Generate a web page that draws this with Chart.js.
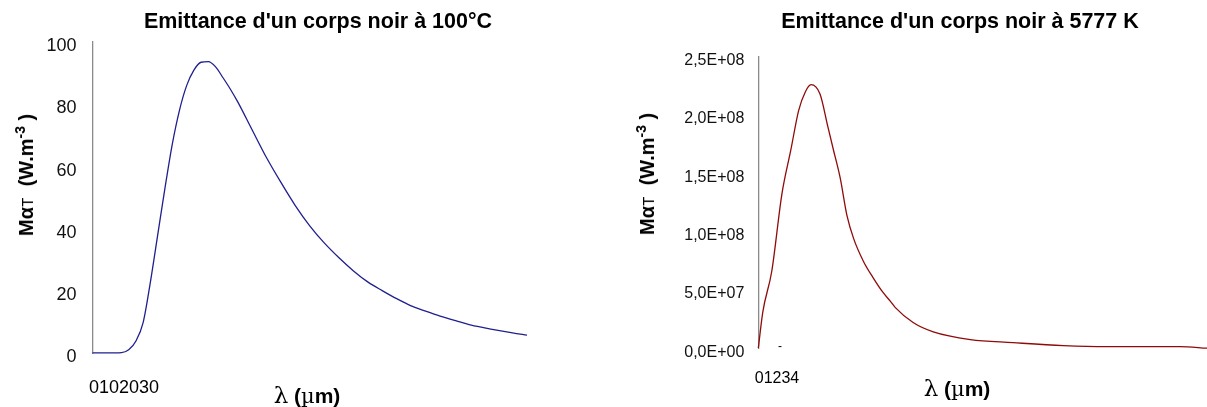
<!DOCTYPE html>
<html>
<head>
<meta charset="utf-8">
<script src="https://cdn.jsdelivr.net/npm/chart.js@4.4.1/dist/chart.umd.min.js"></script>
<style>
  html, body { margin: 0; padding: 0; background: #fff; }
  #wrap { position: relative; width: 1207px; height: 407px; overflow: hidden; font-family: "Liberation Sans", Arial, sans-serif; color: #000; }
  canvas { position: absolute; top: 0; }
  .txt { position: absolute; white-space: nowrap; line-height: 1; }
  .title { font-weight: bold; font-size: 21.5px; transform: translate(-50%, -50%); }
  .ytitle { font-weight: bold; font-size: 20px; transform: translate(-50%, -50%) rotate(-90deg); }
  .ytitle sup { font-size: 14px; vertical-align: 8px; }
  .ytitle .t { font-family: "Liberation Mono", monospace; font-weight: normal; font-size: 16px; }
  .xlab { transform: translate(-50%, -50%); }
  .xtitle { font-weight: bold; font-size: 21px; transform: translate(-50%, -50%); }
  .xtitle .l, .xtitle .mu { font-family: "DejaVu Serif", serif; font-weight: normal; }
  .xtitle .l { font-size: 23px; }
</style>
</head>
<body>
<div id="wrap">
  <canvas id="chartLeft" width="600" height="407" style="left:0"></canvas>
  <canvas id="chartRight" width="607" height="407" style="left:600px"></canvas>

  <div class="txt title" style="left:318px; top:22px">Emittance d'un corps noir à 100°C</div>
  <div class="txt title" style="left:960px; top:22px">Emittance d'un corps noir à 5777 K</div>

  <div class="txt ytitle" style="left:25px; top:175px">Mα<span class="t">T</span>&nbsp; (W.m<sup>-3</sup> )</div>
  <div class="txt ytitle" style="left:646px; top:174px">Mα<span class="t">T</span>&nbsp; (W.m<sup>-3</sup> )</div>

  <div class="txt xlab" style="left:124px; top:387px; font-size:18px">0102030</div>
  <div class="txt xlab" style="left:777px; top:378px; font-size:16px">01234</div>
  <div class="txt" style="left:778px; top:340px; font-size:12px">-</div>

  <div class="txt xtitle" style="left:307px; top:395px"><span class="l">λ</span> (<span class="mu">µ</span>m)</div>
  <div class="txt xtitle" style="left:957px; top:388px"><span class="l">λ</span> (<span class="mu">µ</span>m)</div>
</div>

<script>
// --- data ---
// 100°C : lambda in µm, emittance
const leftLambda = [0, 1, 2, 2.5, 3, 3.5, 4, 4.5, 5, 5.5, 6, 6.5, 7, 7.5, 8, 8.5, 9, 9.5, 10,
  11, 12, 13, 14, 15, 16, 17, 18, 19, 20, 21, 22, 23, 24, 25, 26, 27, 28, 29, 30];
const leftValues = [0.2, 0.2, 0.3, 1.2, 4, 10, 23, 38, 53, 67, 78, 86, 91, 93.5, 93.7, 92, 88.6, 85, 81,
  72, 63, 55, 47.5, 41, 35.5, 30.8, 26.6, 23, 20.2, 17.6, 15.3, 13.6, 12, 10.6, 9.3, 8.3, 7.4, 6.6, 5.9];

// 5777 K
const rightLambda = [0, 0.04, 0.12, 0.21, 0.29, 0.36, 0.42, 0.47, 0.55, 0.62, 0.67, 0.73, 0.79, 0.85,
  0.94, 1.02, 1.11, 1.18, 1.22, 1.38, 1.56, 1.89, 2.27, 2.72, 3.11, 3.76, 4.0];
const rightValues = [0, 3.1e7, 6.6e7, 1.32e8, 1.7e8, 2.04e8, 2.2e8, 2.26e8, 2.18e8, 1.9e8, 1.7e8, 1.46e8, 1.14e8, 9.4e7,
  7.4e7, 6.1e7, 4.8e7, 4.0e7, 3.5e7, 2.2e7, 1.4e7, 7.4e6, 4.8e6, 2.2e6, 1.3e6, 1.3e6, 0];

const leftTicks = { min: 0, max: 100, step: 20 };
const rightTicks = { min: 0, max: 2.5e8, step: 5e7 };

// --- helpers ---
const toPoints = (xs, ys) => xs.map((x, i) => ({ x, y: ys[i] }));

// 2.5e8 -> "2,5E+08"
function sciLabel(v) {
  if (v === 0) return '0,0E+00';
  const [m, e] = v.toExponential(1).split('e');
  const exp = parseInt(e, 10);
  const sign = exp < 0 ? '-' : '+';
  return m.replace('.', ',') + 'E' + sign + String(Math.abs(exp)).padStart(2, '0');
}

function makeChart(id, pts, color, xMax, ticks, o) {
  const ctx = document.getElementById(id).getContext('2d');
  return new Chart(ctx, {
    type: 'line',
    data: {
      datasets: [{
        data: pts,
        borderColor: color,
        borderWidth: 1.3,
        pointRadius: 0,
        fill: false,
        cubicInterpolationMode: 'monotone',
        clip: false
      }]
    },
    options: {
      responsive: false,
      devicePixelRatio: 1,
      animation: false,
      layout: { padding: o.padding },
      plugins: { legend: { display: false }, tooltip: { enabled: false }, title: { display: false } },
      scales: {
        x: { type: 'linear', min: 0, max: xMax, display: false },
        y: {
          min: ticks.min,
          max: ticks.max,
          afterFit: s => { s.width = o.axisWidth; },
          grid: { display: false, drawTicks: false },
          border: { display: true, color: '#8a8a8a', width: 1.3 },
          ticks: {
            stepSize: ticks.step,
            color: '#111',
            padding: o.tickPad,
            labelOffset: o.labelOffset,
            font: { family: '"Liberation Sans", Arial, sans-serif', size: o.fontSize },
            callback: o.fmt
          }
        }
      }
    }
  });
}

makeChart('chartLeft', toPoints(leftLambda, leftValues), '#1f1f8f', 30, leftTicks, {
  padding: { left: 0, top: 42, right: 73, bottom: 53.5 },
  axisWidth: 92.5, tickPad: 16, labelOffset: 4, fontSize: 18,
  fmt: v => String(v)
});

makeChart('chartRight', toPoints(rightLambda, rightValues), '#8f0a0a', 4, rightTicks, {
  padding: { left: 0, top: 56.7, right: 0, bottom: 58.8 },
  axisWidth: 158.3, tickPad: 14, labelOffset: 4, fontSize: 16,
  fmt: v => sciLabel(v)
});
</script>
</body>
</html>
